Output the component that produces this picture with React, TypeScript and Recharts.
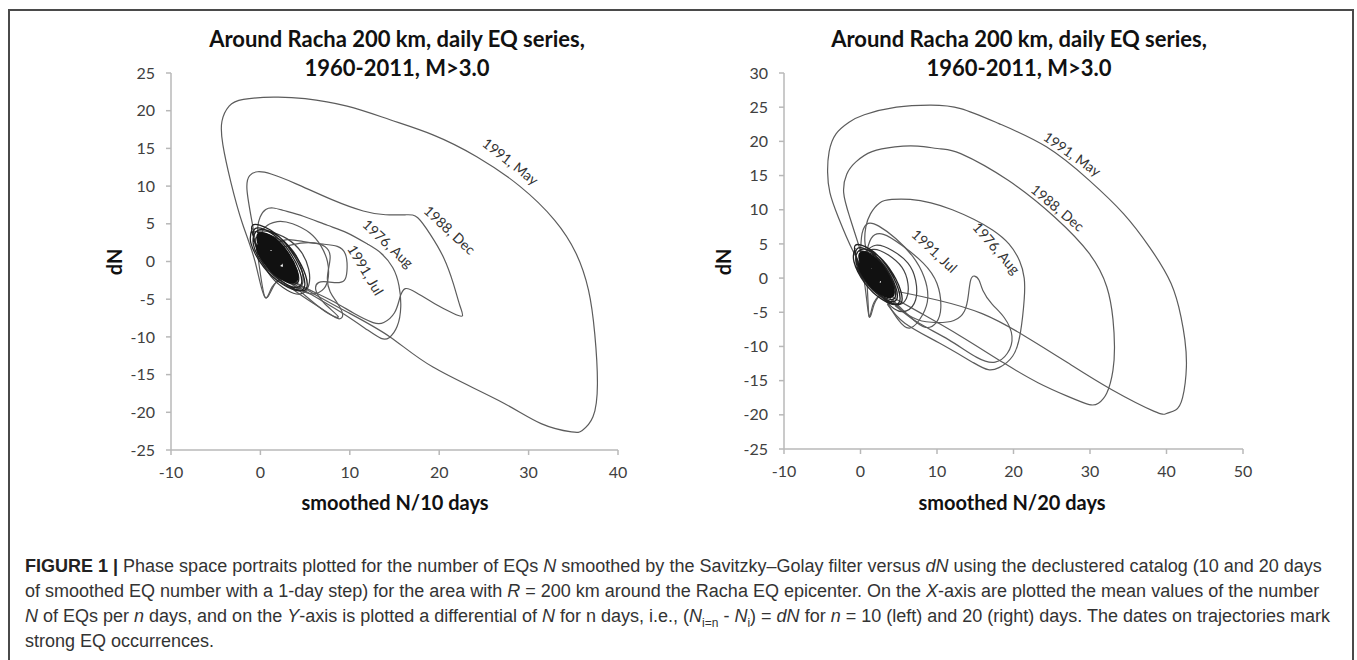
import React from 'react';
import { LineChart, Line, XAxis, YAxis, ReferenceDot } from 'recharts';

// ---------- tick values ----------
const leftXTicks = [-10, 0, 10, 20, 30, 40];
const leftYTicks = [-25, -20, -15, -10, -5, 0, 5, 10, 15, 20, 25];
const rightXTicks = [-10, 0, 10, 20, 30, 40, 50];
const rightYTicks = [-25, -20, -15, -10, -5, 0, 5, 10, 15, 20, 25, 30];

// ---------- left chart (N/10 days) trajectories [x, dN] ----------
const leftMay1991 = [
  [3.0, -1.8], [1.6, -3.0], [0.5, -4.7], [-0.6, 0], [-2.0, 5], [-3.3, 10.5], [-4.2, 15.5], [-4.3, 18.6],
  [-3.5, 20.6], [-1.9, 21.5], [1.5, 21.8], [5.0, 21.6], [9.7, 20.6], [14.5, 18.8], [19.3, 16.8], [24.2, 13.9],
  [29.0, 10.0], [32.9, 5.5], [35.3, 1.1], [36.7, -3.8], [37.4, -9.6], [37.7, -16.2], [37.2, -20.6], [36.0, -22.4],
  [34.8, -22.6], [31.4, -21.5], [26.6, -18.4], [19.3, -14.0], [14.5, -10.0], [9.7, -6.7], [6.0, -4.3], [3.5, -2.6],
];
const leftDec1988 = [
  [2.6, -2.2], [1.3, -3.4], [0.5, -4.7], [-0.2, 0], [-0.9, 5], [-1.5, 9.5], [-1.2, 11.4], [-0.3, 11.9],
  [1.2, 11.6], [4.0, 10.3], [8.0, 8.2], [11.5, 6.7], [14.0, 6.2], [16.3, 6.2], [17.6, 5.8], [19.0, 3.6],
  [20.5, 0.5], [21.6, -3.0], [22.3, -5.8], [22.6, -7.2], [21.6, -6.9], [19.5, -5.6], [17.4, -4.1], [16.2, -3.6],
  [15.6, -4.8], [15.0, -6.8], [13.8, -8.1], [12.6, -8.1], [10.5, -6.9], [8.0, -5.2], [5.2, -3.6], [3.4, -2.4],
];
const leftAug1976 = [
  [0.2, 2.0], [-0.3, 4.5], [0.6, 6.9], [2.5, 6.8], [4.8, 6.0], [7.5, 4.8], [9.7, 3.8], [12.0, 2.3],
  [13.5, 1.1], [14.8, -0.8], [15.5, -3.2], [15.7, -6.0], [15.3, -8.6], [14.4, -10.1], [13.5, -10.2], [12.0, -9.1],
  [9.5, -7.1], [7.0, -5.3], [4.6, -3.6], [2.8, -2.3],
];
const leftJul1991 = [
  [1.5, 2.2], [3.0, 2.9], [5.0, 2.6], [7.0, 2.3], [8.6, 2.0], [9.5, 1.0], [9.7, -0.8], [9.5, -2.3],
  [8.8, -2.8], [7.5, -2.7], [6.5, -2.8], [6.2, -3.8], [7.2, -5.6], [8.7, -7.3], [7.6, -6.9], [5.6, -5.1],
  [3.6, -3.1],
];
const leftLoopTop5 = [
  [0.0, 2.6], [0.4, 4.4], [1.9, 5.3], [3.6, 5.0], [5.5, 3.8], [6.8, 2.0], [7.5, 0.0], [7.6, -2.0],
  [7.1, -3.6], [5.8, -4.3], [4.3, -3.6], [3.0, -2.6],
];
const leftLoopsNear = [
  [-0.8, 3.9], [0.8, 4.0], [3.0, 3.0], [4.6, 1.2], [5.4, -1.0], [5.4, -3.2], [4.5, -4.3], [3.0, -3.8],
  [1.2, -2.0], [0.0, 0.5], [-0.6, 2.8], [0.6, 3.5], [2.6, 2.6], [4.0, 0.8], [4.7, -1.4], [4.6, -3.3],
  [3.6, -3.6], [2.2, -2.7],
];
const leftLoopDown = [
  [2.0, -2.2], [4.0, -4.0], [6.0, -5.6], [7.8, -7.0], [8.8, -7.6], [9.2, -7.0], [8.6, -5.5], [7.8, -4.0],
  [7.5, -2.0], [7.8, 0.5], [7.2, 2.0], [5.5, 2.5], [3.5, 2.2], [1.5, 1.5],
];
const leftCore = [
  [1.55, 0.75], [1.8, 0.45], [1.95, 0.15], [1.75, 0.25], [1.5, 0.6],
  [1.25, 1.15], [1.6, 1.05], [1.95, 0.65], [2.23, 0.05], [2.2, -0.33], [1.85, -0.2], [1.47, 0.2], [1.22, 0.75],
  [0.89, 1.75], [1.52, 1.57], [2.15, 0.85], [2.65, -0.23], [2.6, -0.91], [1.97, -0.68], [1.29, 0.04], [0.84, 1.03],
  [0.53, 2.35], [1.44, 2.09], [2.35, 1.05], [3.07, -0.51], [3.0, -1.49], [2.09, -1.16], [1.11, -0.12], [0.46, 1.31],
  [0.17, 2.95], [1.36, 2.61], [2.55, 1.25], [3.49, -0.79], [3.4, -2.07], [2.21, -1.64], [0.93, -0.28], [0.08, 1.59],
  [-0.19, 3.55], [1.28, 3.13], [2.75, 1.45], [3.91, -1.07], [3.8, -2.65], [2.33, -2.12], [0.75, -0.44], [-0.3, 1.87],
  [0.71, 2.05], [1.48, 1.83], [2.25, 0.95], [2.86, -0.37], [2.8, -1.2], [2.03, -0.92], [1.2, -0.04], [0.65, 1.17],
  [0.35, 2.65], [1.4, 2.35], [2.45, 1.15], [3.28, -0.65], [3.2, -1.78], [2.15, -1.4], [1.02, -0.2], [0.27, 1.45],
  [-0.01, 3.25], [1.32, 2.87], [2.65, 1.35], [3.7, -0.93], [3.6, -2.36], [2.27, -1.88], [0.84, -0.36], [-0.11, 1.73],
  [-0.01, 3.25],
];
const leftRings = [
  [-0.37, 3.85], [1.24, 3.39], [2.85, 1.55], [4.12, -1.21], [4.0, -2.94], [2.39, -2.36], [0.66, -0.52], [-0.49, 2.01],
  [-0.64, 4.3], [1.18, 3.78], [3.0, 1.7], [4.43, -1.42], [4.3, -3.37], [2.48, -2.72], [0.53, -0.64], [-0.77, 2.22],
  [-0.23, 4.15], [1.66, 3.61], [3.55, 1.45], [5.04, -1.79], [4.9, -3.82], [3.01, -3.14], [0.98, -0.98], [-0.37, 1.99],
  [-0.91, 4.75], [1.12, 4.17], [3.15, 1.85], [4.75, -1.63], [4.6, -3.81], [2.57, -3.08], [0.39, -0.76], [-1.06, 2.43],
  [-0.9, 4.4],
];

// ---------- right chart (N/20 days) trajectories [x, dN] ----------
const rightMay1991 = [
  [3.0, -2.0], [1.8, -3.8], [1.1, -5.5], [0.4, 0.1], [-1.0, 4.0], [-2.9, 8.9], [-4.0, 12.5], [-4.3, 15.5],
  [-4.1, 18.5], [-3.2, 21.1], [-1.5, 22.8], [0.5, 23.9], [4.7, 25.0], [9.2, 25.3], [13.1, 24.8], [18.1, 22.6],
  [24.3, 19.2], [29.9, 14.3], [34.4, 9.4], [37.8, 4.5], [40.6, -0.8], [41.9, -5.7], [42.4, -9.0], [42.6, -13.0],
  [42.1, -17.5], [41.2, -19.3], [40.0, -19.8], [38.4, -19.5], [32.8, -16.3], [27.1, -12.4], [21.5, -8.5], [15.9, -5.2],
  [10.0, -3.2], [5.0, -2.0],
];
const rightDec1988 = [
  [2.6, -2.4], [1.6, -4.0], [1.1, -5.5], [0.8, 0], [0.0, 4.0], [-1.4, 8.9], [-2.2, 12.5], [-1.8, 15.2],
  [-0.6, 17.0], [1.5, 18.5], [4.5, 19.2], [7.5, 19.3], [10.5, 18.9], [13.1, 18.2], [19.3, 14.3], [25.4, 8.9],
  [29.9, 3.6], [32.2, -1.3], [33.0, -6.0], [33.2, -10.0], [33.0, -13.5], [32.2, -16.8], [31.1, -18.3], [29.9, -18.5],
  [27.1, -17.3], [23.2, -15.3], [18.7, -12.4], [13.1, -8.5], [8.0, -5.2], [4.2, -2.8],
];
const rightAug1976 = [
  [1.2, 2.5], [0.6, 5.0], [0.7, 7.5], [1.3, 9.4], [2.5, 11.0], [4.1, 11.5], [6.5, 11.5], [9.2, 11.0],
  [12.0, 10.0], [14.8, 8.6], [17.3, 7.0], [19.4, 5.0], [20.8, 2.5], [21.4, 0.0], [21.4, -3.1], [20.9, -8.0],
  [19.9, -11.4], [18.1, -13.1], [16.7, -13.4], [14.8, -12.4], [10.3, -9.5], [5.8, -6.6], [3.5, -3.8],
];
const rightJul1991 = [
  [3.5, -2.5], [5.2, -4.5], [7.5, -6.1], [10.0, -6.5], [12.2, -6.2], [13.6, -4.8], [14.1, -2.5], [14.4, -0.3],
  [14.9, 0.3], [15.5, -0.3], [16.0, -1.8], [17.2, -3.8], [18.8, -5.8], [19.8, -8.5], [19.2, -11.0], [17.6, -12.3],
  [15.2, -11.6], [11.5, -9.0], [7.5, -6.5], [4.5, -4.0],
];
const rightLoopA = [
  [0.0, 3.2], [0.2, 6.5], [1.0, 8.0], [2.4, 7.6], [4.6, 5.8], [6.8, 3.2], [8.3, 0.2], [8.8, -2.8],
  [8.1, -5.4], [6.5, -7.3], [5.0, -6.2], [3.6, -3.8],
];
const rightLoopB = [
  [0.6, 2.8], [1.4, 5.8], [3.0, 6.4], [5.4, 4.8], [8.2, 2.2], [10.0, -0.8], [10.5, -4.3], [9.9, -6.5],
  [8.5, -7.2], [6.6, -5.8], [4.2, -3.2],
];
const rightLoopsNear = [
  [0.4, 3.6], [2.0, 4.8], [4.2, 4.0], [6.2, 2.2], [7.2, -0.3], [7.2, -3.2], [6.0, -4.8], [4.4, -4.5],
  [2.6, -2.4], [1.0, 0.2], [0.2, 2.8], [1.6, 4.2], [3.6, 3.4], [5.4, 1.6], [6.2, -0.8], [6.0, -3.0],
  [4.8, -3.9], [3.2, -3.0],
];
const rightCore = [
  [1.75, 0.75], [2.0, 0.45], [2.15, 0.15], [1.95, 0.25], [1.7, 0.6],
  [1.45, 1.15], [1.8, 1.05], [2.15, 0.65], [2.43, 0.05], [2.4, -0.33], [2.05, -0.2], [1.67, 0.2], [1.42, 0.75],
  [1.09, 1.75], [1.72, 1.57], [2.35, 0.85], [2.85, -0.23], [2.8, -0.91], [2.17, -0.68], [1.49, 0.04], [1.04, 1.03],
  [0.73, 2.35], [1.64, 2.09], [2.55, 1.05], [3.27, -0.51], [3.2, -1.49], [2.29, -1.16], [1.31, -0.12], [0.66, 1.31],
  [0.37, 2.95], [1.56, 2.61], [2.75, 1.25], [3.69, -0.79], [3.6, -2.07], [2.41, -1.64], [1.13, -0.28], [0.28, 1.59],
  [0.01, 3.55], [1.48, 3.13], [2.95, 1.45], [4.11, -1.07], [4.0, -2.65], [2.53, -2.12], [0.95, -0.44], [-0.1, 1.87],
  [0.91, 2.05], [1.68, 1.83], [2.45, 0.95], [3.06, -0.37], [3.0, -1.2], [2.23, -0.92], [1.4, -0.04], [0.85, 1.17],
  [0.55, 2.65], [1.6, 2.35], [2.65, 1.15], [3.48, -0.65], [3.4, -1.78], [2.35, -1.4], [1.22, -0.2], [0.47, 1.45],
  [0.19, 3.25], [1.52, 2.87], [2.85, 1.35], [3.9, -0.93], [3.8, -2.36], [2.47, -1.88], [1.04, -0.36], [0.09, 1.73],
  [0.19, 3.25],
];
const rightRings = [
  [-0.26, 4.0], [1.42, 3.52], [3.1, 1.6], [4.42, -1.28], [4.3, -3.08], [2.62, -2.48], [0.82, -0.56], [-0.38, 2.08],
  [-0.44, 4.3], [1.38, 3.78], [3.2, 1.7], [4.63, -1.42], [4.5, -3.37], [2.68, -2.72], [0.73, -0.64], [-0.57, 2.22],
  [-0.03, 4.15], [1.86, 3.61], [3.75, 1.45], [5.24, -1.79], [5.1, -3.82], [3.21, -3.14], [1.18, -0.98], [-0.17, 1.99],
  [-0.71, 4.75], [1.32, 4.17], [3.35, 1.85], [4.95, -1.63], [4.8, -3.81], [2.77, -3.08], [0.59, -0.76], [-0.86, 2.43],
  [-0.7, 4.4],
];

// ---------- trajectory date labels ----------
const labelTexts = ['1991, May', '1988, Dec', '1976, Aug', '1991, Jul'];
const leftLabelX = [28.0, 21.2, 14.3, 11.8];
const leftLabelY = [13.3, 4.2, 2.4, -1.1];
const rightLabelX = [27.7, 25.8, 17.8, 9.7];
const rightLabelY = [18.2, 10.3, 4.4, 4.0];

const CHART_FONT = 'Lato, "Liberation Sans", sans-serif';
const CAPTION_FONT = '"Liberation Sans", Arial, sans-serif';
const leftLabelAngles = [38, 43, 43, 59];
const rightLabelAngles = [35, 40, 49, 43];

type Series = { data: number[][]; color: string; width: number };

const toPts = (arr: number[][]) => arr.map(([x, y]) => ({ x, y }));

const makeLabelShape = (text: string, angle: number) => (props: any) => {
  const { cx, cy } = props;
  return (
    <text
      x={cx}
      y={cy}
      textAnchor="middle"
      dominantBaseline="central"
      transform={`rotate(${angle} ${cx} ${cy})`}
      fontSize={14}
      fill="#333"
      fontFamily={CHART_FONT}
    >
      {text}
    </text>
  );
};

function Portrait(props: {
  left: number;
  width: number;
  margin: { top: number; right: number; bottom: number; left: number };
  xDomain: [number, number];
  xTicks: number[];
  yDomain: [number, number];
  yTicks: number[];
  series: Series[];
  labelX: number[];
  labelY: number[];
  angles: number[];
}) {
  const axisColor = '#b8b8b8';
  const tickStyle = { fill: '#404040', fontSize: 16, fontFamily: CHART_FONT };
  return (
    <div style={{ position: 'absolute', left: props.left, top: 0 }}>
      <LineChart width={props.width} height={560} margin={props.margin}>
        <XAxis
          type="number"
          dataKey="x"
          domain={props.xDomain}
          ticks={props.xTicks}
          interval={0}
          allowDataOverflow
          height={60}
          tickSize={5}
          tickMargin={12}
          axisLine={{ stroke: axisColor, strokeWidth: 1.5 }}
          tickLine={{ stroke: axisColor, strokeWidth: 1.5 }}
          tick={tickStyle}
        />
        <YAxis
          type="number"
          domain={props.yDomain}
          ticks={props.yTicks}
          interval={0}
          allowDataOverflow
          width={60}
          tickSize={5}
          tickMargin={11}
          axisLine={{ stroke: axisColor, strokeWidth: 1.5 }}
          tickLine={{ stroke: axisColor, strokeWidth: 1.5 }}
          tick={tickStyle}
        />
        {props.series.map((s, i) => (
          <Line
            key={i}
            data={toPts(s.data)}
            dataKey="y"
            type="natural"
            stroke={s.color}
            strokeWidth={s.width}
            dot={false}
            activeDot={false}
            isAnimationActive={false}
          />
        ))}
        {labelTexts.map((t, i) => (
          <ReferenceDot
            key={t}
            x={props.labelX[i]}
            y={props.labelY[i]}
            r={0}
            shape={makeLabelShape(t, props.angles[i])}
          />
        ))}
      </LineChart>
    </div>
  );
}

const trajColor = '#5c5c5c';
const leftSeries: Series[] = [
  { data: leftMay1991, color: trajColor, width: 1.2 },
  { data: leftDec1988, color: trajColor, width: 1.2 },
  { data: leftAug1976, color: trajColor, width: 1.2 },
  { data: leftJul1991, color: trajColor, width: 1.2 },
  { data: leftLoopTop5, color: trajColor, width: 1.2 },
  { data: leftLoopsNear, color: '#444', width: 1.2 },
  { data: leftLoopDown, color: trajColor, width: 1.2 },
  { data: leftRings, color: '#222', width: 1.3 },
  { data: leftCore, color: '#111', width: 3.5 },
];
const rightSeries: Series[] = [
  { data: rightMay1991, color: trajColor, width: 1.2 },
  { data: rightDec1988, color: trajColor, width: 1.2 },
  { data: rightAug1976, color: trajColor, width: 1.2 },
  { data: rightJul1991, color: trajColor, width: 1.2 },
  { data: rightLoopA, color: trajColor, width: 1.2 },
  { data: rightLoopB, color: trajColor, width: 1.2 },
  { data: rightLoopsNear, color: '#444', width: 1.2 },
  { data: rightRings, color: '#222', width: 1.3 },
  { data: rightCore, color: '#111', width: 3.5 },
];

const titleStyle: React.CSSProperties = {
  position: 'absolute',
  width: 560,
  top: 24,
  textAlign: 'center',
  fontFamily: CHART_FONT,
  fontWeight: 700,
  fontSize: 22,
  lineHeight: '29px',
  color: '#111',
  whiteSpace: 'nowrap',
};
const axisTitleStyle: React.CSSProperties = {
  position: 'absolute',
  width: 300,
  top: 489,
  textAlign: 'center',
  fontFamily: CHART_FONT,
  fontWeight: 700,
  fontSize: 20,
  lineHeight: '26px',
  color: '#111',
  whiteSpace: 'nowrap',
};
const dnStyle: React.CSSProperties = {
  position: 'absolute',
  width: 60,
  top: 249,
  textAlign: 'center',
  fontFamily: CHART_FONT,
  fontWeight: 700,
  fontSize: 20,
  lineHeight: '26px',
  color: '#111',
  transform: 'rotate(-90deg)',
};
const capLine: React.CSSProperties = {
  position: 'absolute',
  left: 25,
  fontFamily: CAPTION_FONT,
  fontSize: 18,
  lineHeight: '25px',
  color: '#333',
  whiteSpace: 'nowrap',
};

export default function App() {
  return (
    <div
      style={{
        position: 'fixed',
        left: 0,
        top: 0,
        width: 1357,
        height: 660,
        overflow: 'hidden',
        background: '#fff',
      }}
    >
      <div
        style={{
          position: 'absolute',
          left: 8,
          top: 9,
          width: 1346,
          height: 720,
          border: '2px solid #4a4a4a',
          boxSizing: 'border-box',
        }}
      />
      <Portrait
        left={0}
        width={680}
        margin={{ top: 73, right: 62, bottom: 50, left: 111 }}
        xDomain={[-10, 40]}
        xTicks={leftXTicks}
        yDomain={[-25, 25]}
        yTicks={leftYTicks}
        series={leftSeries}
        labelX={leftLabelX}
        labelY={leftLabelY}
        angles={leftLabelAngles}
      />
      <Portrait
        left={680}
        width={677}
        margin={{ top: 73, right: 114, bottom: 51, left: 44 }}
        xDomain={[-10, 50]}
        xTicks={rightXTicks}
        yDomain={[-25, 30]}
        yTicks={rightYTicks}
        series={rightSeries}
        labelX={rightLabelX}
        labelY={rightLabelY}
        angles={rightLabelAngles}
      />
      <div style={{ ...titleStyle, left: 397 - 280 }}>
        Around Racha 200 km, daily EQ series,
        <br />
        1960-2011, M&gt;3.0
      </div>
      <div style={{ ...titleStyle, left: 1019 - 280 }}>
        Around Racha 200 km, daily EQ series,
        <br />
        1960-2011, M&gt;3.0
      </div>
      <div style={{ ...axisTitleStyle, left: 395 - 150 }}>smoothed N/10 days</div>
      <div style={{ ...axisTitleStyle, left: 1012 - 150 }}>smoothed N/20 days</div>
      <div style={{ ...dnStyle, left: 114 - 30 }}>dN</div>
      <div style={{ ...dnStyle, left: 723 - 30 }}>dN</div>

      <div style={{ ...capLine, top: 554 }}>
        <b style={{ color: '#222' }}>FIGURE 1</b> <b style={{ color: '#222' }}>|</b> Phase space portraits plotted for
        the number of EQs <i>N</i> smoothed by the Savitzky–Golay filter versus <i>dN</i> using the declustered catalog
        (10 and 20 days
      </div>
      <div style={{ ...capLine, top: 579 }}>
        of smoothed EQ number with a 1-day step) for the area with <i>R</i> = 200 km around the Racha EQ epicenter. On
        the <i>X</i>-axis are plotted the mean values of the number
      </div>
      <div style={{ ...capLine, top: 604 }}>
        <i>N</i> of EQs per <i>n</i> days, and on the <i>Y</i>-axis is plotted a differential of <i>N</i> for n days,
        i.e., (<i>N</i>
        <sub style={{ fontSize: 12, lineHeight: 0 }}>i=n</sub> - <i>N</i>
        <sub style={{ fontSize: 12, lineHeight: 0 }}>i</sub>) = <i>dN</i> for <i>n</i> = 10 (left) and 20 (right) days.
        The dates on trajectories mark
      </div>
      <div style={{ ...capLine, top: 629 }}>strong EQ occurrences.</div>
    </div>
  );
}
